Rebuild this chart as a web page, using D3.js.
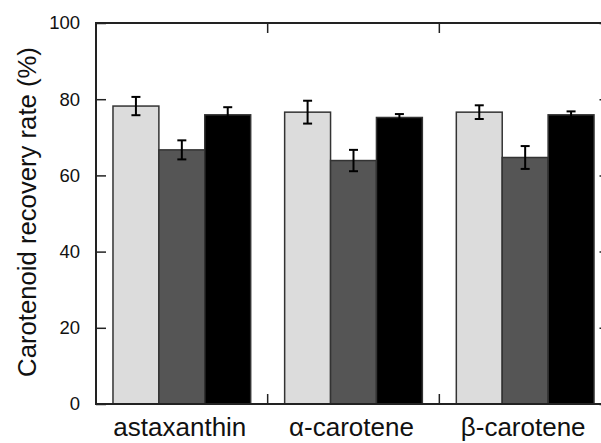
<!DOCTYPE html>
<html>
<head>
<meta charset="utf-8">
<script src="https://cdn.jsdelivr.net/npm/d3@7"></script>
<style>
  body { margin: 0; background: #fff; }
  text { font-family: "Liberation Sans", Arial, sans-serif; fill: #111; }
</style>
</head>
<body>
<div class="chart"></div>
<script>
// data
var categories = ["astaxanthin", "\u03b1-carotene", "\u03b2-carotene"];
var series = ["s1", "s2", "s3"];
var seriesColors = ["#dcdcdc", "#555555", "#000000"];
var values = [
  [78.2, 66.7, 75.9],
  [76.6, 63.9, 75.2],
  [76.6, 64.7, 75.9]
];
var errors = [
  [2.4, 2.5, 2.0],
  [3.0, 2.8, 0.9],
  [1.8, 3.0, 0.9]
];
var yTicks = [0, 20, 40, 60, 80, 100];

var svgWidth = 601;
var svgHeight = 443;

var margin = { top: 23, right: -10, bottom: 39, left: 96 };
var width = svgWidth - margin.left - margin.right;
var height = svgHeight - margin.top - margin.bottom;

var svg = d3.select(".chart")
  .append("svg")
  .attr("width", svgWidth)
  .attr("height", svgHeight);

var chartGroup = svg.append("g")
  .attr("transform", `translate(${margin.left}, ${margin.top})`);

// scales
var x0 = d3.scaleBand()
  .domain(categories)
  .range([0, width])
  .padding(0);

var x1 = d3.scaleBand()
  .domain(series)
  .range([0, x0.bandwidth()])
  .paddingInner(0)
  .paddingOuter(0.37);

var yLinearScale = d3.scaleLinear()
  .domain([0, 100])
  .range([height, 0]);

// table of bars
var barData = [];
categories.forEach(function(c, i) {
  series.forEach(function(s, j) {
    barData.push({ cat: c, ser: s, color: seriesColors[j], value: values[i][j], err: errors[i][j] });
  });
});

// bars
var groups = chartGroup.selectAll(".group")
  .data(categories)
  .enter()
  .append("g")
  .attr("transform", d => `translate(${x0(d)}, 0)`);

groups.selectAll("rect")
  .data(c => barData.filter(b => b.cat === c))
  .enter()
  .append("rect")
  .attr("x", d => x1(d.ser))
  .attr("y", d => yLinearScale(d.value))
  .attr("width", x1.bandwidth())
  .attr("height", d => height - yLinearScale(d.value))
  .attr("fill", d => d.color)
  .attr("stroke", "#333")
  .attr("stroke-width", 1.5);

// error bars
var errGroup = groups.selectAll(".err")
  .data(c => barData.filter(b => b.cat === c))
  .enter()
  .append("g")
  .attr("class", "err");

errGroup.append("line")
  .attr("x1", d => x1(d.ser) + x1.bandwidth() / 2)
  .attr("x2", d => x1(d.ser) + x1.bandwidth() / 2)
  .attr("y1", d => yLinearScale(d.value + d.err))
  .attr("y2", d => yLinearScale(d.value - d.err))
  .attr("stroke", "#000")
  .attr("stroke-width", 2);

errGroup.selectAll(".cap")
  .data(d => [{ b: d, v: d.value + d.err }, { b: d, v: d.value - d.err }])
  .enter()
  .append("line")
  .attr("x1", d => x1(d.b.ser) + x1.bandwidth() / 2 - 4.5)
  .attr("x2", d => x1(d.b.ser) + x1.bandwidth() / 2 + 4.5)
  .attr("y1", d => yLinearScale(d.v))
  .attr("y2", d => yLinearScale(d.v))
  .attr("stroke", "#000")
  .attr("stroke-width", 2);

// frame
chartGroup.append("rect")
  .attr("x", 0)
  .attr("y", 0)
  .attr("width", width)
  .attr("height", height)
  .attr("fill", "none")
  .attr("stroke", "#222")
  .attr("stroke-width", 2);

// left axis, ticks pointing in
var leftAxis = d3.axisLeft(yLinearScale)
  .tickValues(yTicks)
  .tickSize(-10)
  .tickSizeOuter(0)
  .tickPadding(16);

var yAxis = chartGroup.append("g")
  .call(leftAxis);
yAxis.select(".domain").remove();
yAxis.selectAll("line").attr("stroke", "#222").attr("stroke-width", 1.5);
yAxis.selectAll("text")
  .style("font-size", "18.5px")
  .style("font-family", "'Liberation Sans', Arial, sans-serif")
  .attr("fill", "#111");

// right axis (mostly off the page)
var rightAxis = d3.axisRight(yLinearScale)
  .tickValues(yTicks)
  .tickSize(-11.5)
  .tickSizeOuter(0)
  .tickFormat("");

var yAxisRight = chartGroup.append("g")
  .attr("transform", `translate(${width}, 0)`)
  .call(rightAxis);
yAxisRight.select(".domain").remove();
yAxisRight.selectAll("line").attr("stroke", "#222").attr("stroke-width", 1.5);

// group separator ticks on top and bottom
var separators = categories.slice(1);
chartGroup.selectAll(".sepTop")
  .data(separators)
  .enter()
  .append("line")
  .attr("x1", d => x0(d))
  .attr("x2", d => x0(d))
  .attr("y1", 0)
  .attr("y2", 10)
  .attr("stroke", "#222")
  .attr("stroke-width", 1.5);

chartGroup.selectAll(".sepBottom")
  .data(separators)
  .enter()
  .append("line")
  .attr("x1", d => x0(d))
  .attr("x2", d => x0(d))
  .attr("y1", height)
  .attr("y2", height - 10)
  .attr("stroke", "#222")
  .attr("stroke-width", 1.5);

// category labels
var bottomAxis = d3.axisBottom(x0)
  .tickSize(0)
  .tickPadding(14);

var xAxis = chartGroup.append("g")
  .attr("transform", `translate(-2, ${height})`)
  .call(bottomAxis);
xAxis.select(".domain").remove();
xAxis.selectAll("text")
  .style("font-size", "26px")
  .style("font-family", "'Liberation Sans', Arial, sans-serif")
  .attr("fill", "#111");

// y axis title
svg.append("text")
  .attr("transform", "rotate(-90)")
  .attr("x", -212)
  .attr("y", 36)
  .attr("text-anchor", "middle")
  .style("font-size", "25.7px")
  .text("Carotenoid recovery rate (%)");
</script>
</body>
</html>
